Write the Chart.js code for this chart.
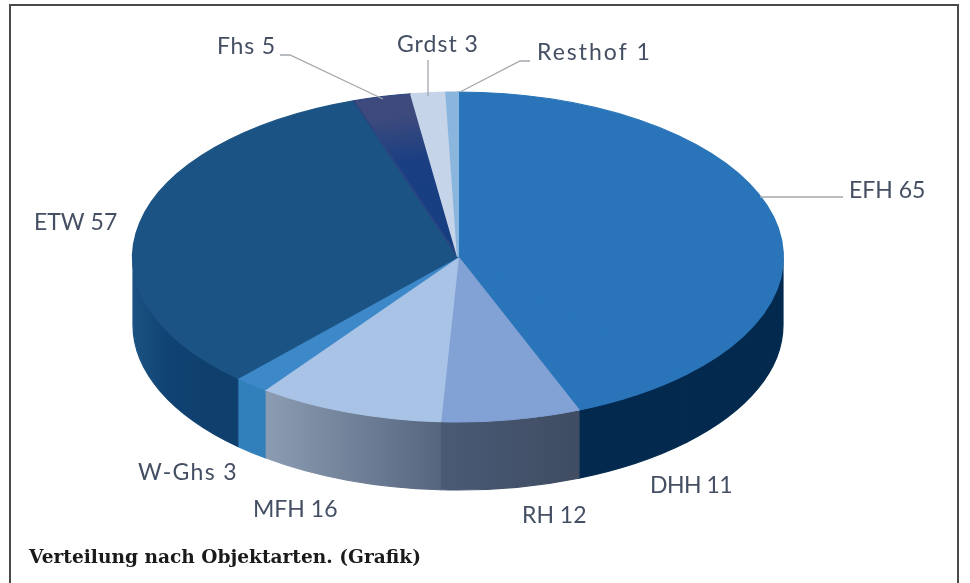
<!DOCTYPE html>
<html>
<head>
<meta charset="utf-8">
<title>Verteilung nach Objektarten</title>
<script src="https://cdn.jsdelivr.net/npm/chart.js@4"></script>
<style>
  html, body { margin: 0; padding: 0; background: #fff; }
  #wrap { position: relative; width: 970px; height: 583px; overflow: hidden; }
  #frame { position: absolute; left: 9px; top: 4px; width: 946px; height: 600px; border: 2px solid #4a4a4a; }
  #caption { position: absolute; left: 29px; top: 546px; font: bold 18.6px "DejaVu Serif", serif; color: #1a1a1a; white-space: nowrap; }
  canvas { position: absolute; left: 0; top: 0; }
</style>
</head>
<body>
<div id="wrap">
  <div id="frame"></div>
  <canvas id="pie" width="970" height="583"></canvas>
  <div id="caption">Verteilung nach Objektarten. (Grafik)</div>
</div>
<script>
// Values as printed next to the slices
const categories = ['EFH', 'DHH', 'RH', 'MFH', 'W-Ghs', 'ETW', 'Fhs', 'Grdst', 'Resthof'];
const counts = [65, 11, 12, 16, 3, 57, 5, 3, 1];

const topColors = ['#2a75b9', '#2a75b9', '#82a1d5', '#a8c3e5', '#3d88c9', '#1b5484', '#2a4580', '#c5d4e9', '#8ab6de'];
// wall colours, left to right across each slice
const sideColors = [
  ['#032a4e', '#032a4e'], ['#032a4e', '#032a4e'], ['#4a5a76', '#3f4c62'], ['#8c9cb2', '#56667f'],
  ['#3180bb', '#3180bb'], ['#1a5282', '#104373', '#0f3f6d', '#0f3f6d'], ['#1a3566', '#1a3566'], ['#8c9cb2', '#8c9cb2'], ['#5f8cb2', '#5f8cb2']
];

// Label placement, same order as categories: left edge, middle of text, extra letter spacing
const labelX = [849, 650, 522, 253, 138, 34, 217, 397, 537];
const labelY = [191, 486, 516, 510, 473, 223, 47, 45, 53];
const labelSpacing = [0, -0.5, 0, 0, 1.3, 0, 0.8, 1, 2];
const leaders = [
  [[843, 197], [760, 197]],
  [[280, 55], [290, 55], [383, 99]],
  [[428, 60], [428, 96]],
  [[530, 61], [520, 61], [460, 92]]
];

const centerX = 458;
const centerY = 257;
const radius = 325;
const squash = 165 / 325;
const depth = 68;

const canvas = document.getElementById('pie');
const ctx2d = canvas.getContext('2d');

// Fhs gets darker and more saturated toward the middle
const fhsFill = ctx2d.createRadialGradient(centerX, centerY, 0, centerX, centerY, radius);
fhsFill.addColorStop(0, '#143e80');
fhsFill.addColorStop(0.6, '#1a3f82');
fhsFill.addColorStop(0.88, '#3e4a7c');
fhsFill.addColorStop(1, '#3e4a7c');

const fills = topColors.map((c, i) => categories[i] === 'Fhs' ? fhsFill : c);

const tiltPlugin = {
  id: 'tilt',
  beforeDatasetsDraw(chart) {
    const ctx = chart.ctx;
    const arcs = chart.getDatasetMeta(0).data;
    // wall under the front half of the disc
    arcs.forEach((arc, i) => {
      const a0 = Math.max(arc.startAngle, 0);
      const a1 = Math.min(arc.endAngle, Math.PI);
      if (a1 <= a0) return;
      const x0 = arc.x + Math.cos(a0) * radius;
      const x1 = arc.x + Math.cos(a1) * radius;
      const grad = ctx.createLinearGradient(x1, 0, x0, 0);
      sideColors[i].forEach((c, n, all) => grad.addColorStop(n / (all.length - 1), c));
      ctx.beginPath();
      ctx.ellipse(arc.x, arc.y, radius, radius * squash, 0, a0, a1);
      ctx.ellipse(arc.x, arc.y + depth, radius, radius * squash, 0, a1, a0, true);
      ctx.closePath();
      ctx.fillStyle = grad;
      ctx.strokeStyle = grad;
      ctx.lineWidth = 1.2;
      ctx.fill();
      ctx.stroke();
    });
    ctx.save();
    ctx.translate(centerX, centerY);
    ctx.scale(1, squash);
    ctx.translate(-centerX, -centerY);
  },
  afterDatasetsDraw(chart) {
    const ctx = chart.ctx;
    ctx.restore();

    ctx.strokeStyle = '#a3a8ad';
    ctx.lineWidth = 1.3;
    leaders.forEach(pts => {
      ctx.beginPath();
      pts.forEach((p, i) => i ? ctx.lineTo(p[0], p[1]) : ctx.moveTo(p[0], p[1]));
      ctx.stroke();
    });

    ctx.fillStyle = '#454f63';
    ctx.font = '23px Lato, sans-serif';
    ctx.textAlign = 'left';
    ctx.textBaseline = 'middle';
    categories.forEach((c, i) => {
      ctx.letterSpacing = labelSpacing[i] + 'px';
      ctx.fillText(c + ' ' + counts[i], labelX[i], labelY[i]);
    });
    ctx.letterSpacing = '0px';
  }
};

new Chart(canvas, {
  type: 'pie',
  data: {
    labels: categories,
    datasets: [{
      data: counts,
      backgroundColor: fills,
      borderColor: topColors,
      borderWidth: 2,
      clip: false
    }]
  },
  options: {
    responsive: false,
    animation: false,
    radius: radius,
    layout: { padding: { right: 970 - 2 * centerX, bottom: 583 - 2 * centerY } },
    plugins: {
      legend: { display: false },
      tooltip: { enabled: false }
    }
  },
  plugins: [tiltPlugin]
});
</script>
</body>
</html>
